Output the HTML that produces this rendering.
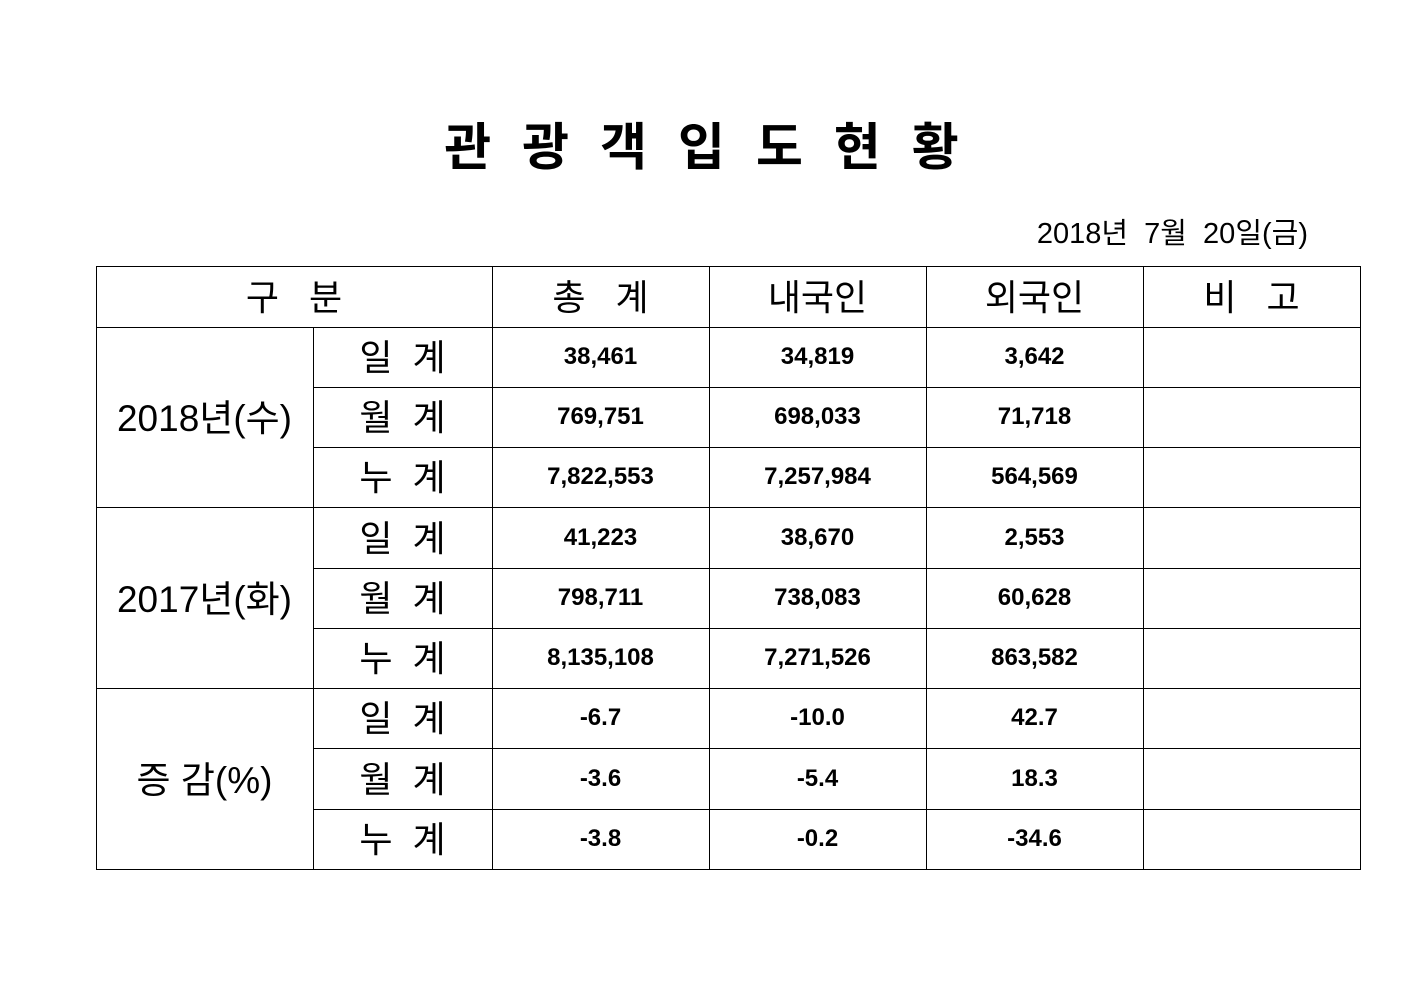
<!DOCTYPE html>
<html><head><meta charset="utf-8"><style>
body{margin:0;width:1403px;height:992px;background:#fff;position:relative;overflow:hidden;font-family:"Liberation Sans","Noto Sans CJK KR","NanumGothic",sans-serif;color:#000}
.h{position:absolute;height:1px;background:#000}
.v{position:absolute;width:1px;background:#000}
.t{position:absolute;display:flex;align-items:center;justify-content:center;white-space:pre}
.n{font-weight:bold;font-size:24px}
.l{font-size:36px}
</style></head><body>
<div class="t" style="left:0;width:1403px;top:110px;height:66px;font-size:51px;font-weight:bold;letter-spacing:31px;padding-left:31px;box-sizing:border-box">관광객입도현황</div>
<div class="t" style="left:950px;width:358px;top:211px;height:40px;font-size:29px;justify-content:flex-end">2018년  7월  20일(금)</div>

<div class="h" style="left:96px;width:1265px;top:266px"></div>
<div class="h" style="left:96px;width:1265px;top:327px"></div>
<div class="h" style="left:313px;width:1048px;top:387px"></div>
<div class="h" style="left:313px;width:1048px;top:447px"></div>
<div class="h" style="left:96px;width:1265px;top:507px"></div>
<div class="h" style="left:313px;width:1048px;top:568px"></div>
<div class="h" style="left:313px;width:1048px;top:628px"></div>
<div class="h" style="left:96px;width:1265px;top:688px"></div>
<div class="h" style="left:313px;width:1048px;top:748px"></div>
<div class="h" style="left:313px;width:1048px;top:809px"></div>
<div class="h" style="left:96px;width:1265px;top:869px"></div>

<div class="v" style="left:96px;top:266px;height:604px"></div>
<div class="v" style="left:313px;top:327px;height:543px"></div>
<div class="v" style="left:492px;top:266px;height:604px"></div>
<div class="v" style="left:709px;top:266px;height:604px"></div>
<div class="v" style="left:926px;top:266px;height:604px"></div>
<div class="v" style="left:1143px;top:266px;height:604px"></div>
<div class="v" style="left:1360px;top:266px;height:604px"></div>

<div class="t l" style="left:96px;width:396px;top:264px;height:61px">구   분</div>
<div class="t l" style="left:492px;width:217px;top:264px;height:61px">총   계</div>
<div class="t l" style="left:709px;width:217px;top:264px;height:61px">내국인</div>
<div class="t l" style="left:926px;width:217px;top:264px;height:61px">외국인</div>
<div class="t l" style="left:1143px;width:217px;top:264px;height:61px">비   고</div>

<div class="t" style="left:96px;width:217px;top:325px;height:180px;font-size:37px">2018년(수)</div>
<div class="t" style="left:96px;width:217px;top:505px;height:181px;font-size:37px">2017년(화)</div>
<div class="t" style="left:96px;width:217px;top:686px;height:181px;font-size:37px">증 감(%)</div>

<div id="rows"></div>
<script>
var tops=[327,387,447,507,568,628,688,748,809,869];
var labs=["일  계","월  계","누  계"];
var d=[["38,461","34,819","3,642"],["769,751","698,033","71,718"],["7,822,553","7,257,984","564,569"],
["41,223","38,670","2,553"],["798,711","738,083","60,628"],["8,135,108","7,271,526","863,582"],
["-6.7","-10.0","42.7"],["-3.6","-5.4","18.3"],["-3.8","-0.2","-34.6"]];
var cx=[492,709,926],h="";
for(var i=0;i<9;i++){var t=tops[i],hh=tops[i+1]-t;
h+='<div class="t l" style="left:313px;width:179px;top:'+(t-2)+'px;height:'+hh+'px">'+labs[i%3]+'</div>';
for(var j=0;j<3;j++)h+='<div class="t n" style="left:'+cx[j]+'px;width:217px;top:'+t+'px;height:'+hh+'px">'+d[i][j]+'</div>';}
document.getElementById("rows").innerHTML=h;
</script>
</body></html>
